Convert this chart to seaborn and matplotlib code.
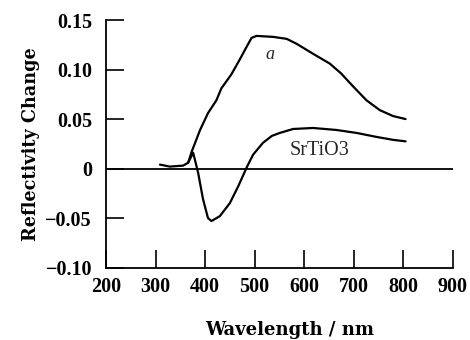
import numpy as np
import pandas as pd
import matplotlib
matplotlib.use("Agg")
import matplotlib.pyplot as plt
import seaborn as sns

# Curve "a"
wl_a = [309, 329, 356, 366, 373, 380, 390, 406, 423, 433, 453, 470, 484, 494, 504, 538,
        565, 585, 618, 652, 675, 699, 726, 753, 780, 805]
val_a = [0.004, 0.002, 0.003, 0.006, 0.017, 0.026, 0.039, 0.056, 0.069, 0.081, 0.095, 0.110,
         0.123, 0.132, 0.134, 0.133, 0.131, 0.126, 0.116, 0.106, 0.096, 0.083, 0.069, 0.059,
         0.053, 0.050]

# Curve "SrTiO3"
wl_s = [366, 376, 386, 396, 406, 413, 430, 450, 467, 484, 497, 517, 535, 551, 578, 618,
        665, 706, 746, 780, 805]
val_s = [0.006, 0.016, -0.004, -0.031, -0.050, -0.053, -0.048, -0.035, -0.018, 0.001, 0.014,
         0.026, 0.033, 0.036, 0.040, 0.041, 0.039, 0.036, 0.032, 0.029, 0.0275]

x_ticks = [200, 300, 400, 500, 600, 700, 800, 900]
y_ticks = [-0.10, -0.05, 0, 0.05, 0.10, 0.15]
y_tick_labels = ["\u22120.10", "\u22120.05", "0", "0.05", "0.10", "0.15"]

sns.set_style("ticks")
plt.rcParams['font.family'] = ['Liberation Serif', 'DejaVu Serif']
plt.rcParams['font.weight'] = 'bold'

fig = plt.figure(figsize=(4.7, 3.4), dpi=100)
ax = fig.add_axes([0.2255, 0.213, 0.7375, 0.728])

df_a = pd.DataFrame({"wl": wl_a, "val": val_a})
df_s = pd.DataFrame({"wl": wl_s, "val": val_s})
sns.lineplot(data=df_a, x="wl", y="val", ax=ax, color="black", linewidth=1.6, sort=False)
sns.lineplot(data=df_s, x="wl", y="val", ax=ax, color="black", linewidth=1.6, sort=False)
ax.axhline(0, color="black", linewidth=1.3)

ax.set_xlim(200, 900)
ax.set_ylim(-0.10, 0.15)
ax.set_xticks(x_ticks)
ax.set_yticks(y_ticks)
ax.set_yticklabels(y_tick_labels)
ax.tick_params(direction="in", length=13, width=1.2, labelsize=14.5, colors="black")
ax.tick_params(axis="y", pad=10)
ax.tick_params(axis="x", pad=7)
for s in ["top", "right"]:
    ax.spines[s].set_visible(False)
for s in ["left", "bottom"]:
    ax.spines[s].set_linewidth(1.3)
    ax.spines[s].set_color("black")

ax.set_xlabel("Wavelength / nm", fontsize=13, fontweight="bold", family="DejaVu Serif",
              color="black")
ax.xaxis.set_label_coords(0.53, -0.215)
ax.set_ylabel("Reflectivity Change", fontsize=12.7, fontweight="bold", family="DejaVu Serif",
              color="black", labelpad=4)

ax.text(531, 0.115, "a", fontsize=13, fontstyle="italic", fontweight="normal",
        ha="center", va="center")
ax.text(631, 0.018, "SrTiO3", fontsize=14.5, fontweight="normal", ha="center", va="center")

fig.savefig("out.png", dpi=100)
